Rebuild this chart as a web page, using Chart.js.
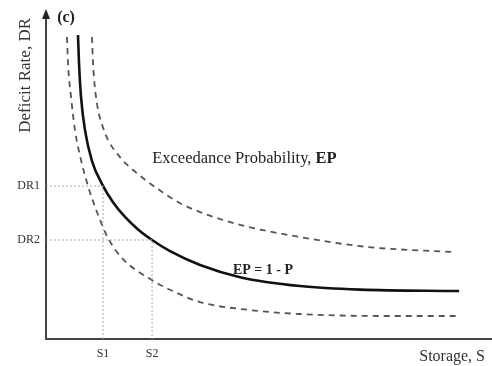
<!DOCTYPE html>
<html>
<head>
<meta charset="utf-8">
<script src="https://cdn.jsdelivr.net/npm/chart.js@4.4.0/dist/chart.umd.min.js"></script>
<style>
  html, body { margin: 0; padding: 0; background: #fff; }
  #wrap { width: 492px; height: 366px; }
</style>
</head>
<body>
<div id="wrap"><canvas id="chart"></canvas></div>
<script>
// data: storage S (x) against deficit rate DR (y), arbitrary units
const curveS  = [0.717, 0.740, 0.785, 0.874, 1.031, 1.256, 1.502, 1.771, 2.063, 2.377, 2.780, 3.453, 4.350, 5.695, 7.040, 9.260];
const curveDR = [9.24, 8.39, 7.36, 6.35, 5.41, 4.71, 4.16, 3.71, 3.33, 3.01, 2.67, 2.25, 1.88, 1.61, 1.50, 1.46];

const lowerS  = [0.471, 0.493, 0.561, 0.650, 0.785, 0.942, 1.143, 1.390, 1.726, 2.377, 2.937, 3.453, 4.574, 5.695, 7.489, 9.260];
const lowerDR = [9.18, 8.39, 7.36, 6.35, 5.44, 4.65, 3.86, 3.07, 2.43, 1.79, 1.40, 1.12, 0.88, 0.76, 0.70, 0.70];

const upperS  = [1.031, 1.054, 1.121, 1.300, 1.659, 1.951, 2.444, 3.004, 3.453, 4.350, 5.695, 7.197, 9.170];
const upperDR = [9.18, 8.39, 7.36, 6.35, 5.53, 5.14, 4.62, 4.13, 3.86, 3.47, 3.10, 2.80, 2.64];

const tickS = [1.278, 2.377];
const tickSLabels = ['S1', 'S2'];
const tickDR = [4.65, 3.01];
const tickDRLabels = ['DR1', 'DR2'];

const pts = (xs, ys) => xs.map((x, i) => ({x: x, y: ys[i]}));
const guide = (i) => [{x: 0, y: tickDR[i]}, {x: tickS[i], y: tickDR[i]}, {x: tickS[i], y: 0}];

const serif = '"Liberation Serif", "DejaVu Serif", serif';

// axis lines, arrow and the text labels
const extras = {
    id: 'extras',
    beforeDatasetsDraw(chart) {
        const ctx = chart.ctx;
        const a = chart.chartArea;
        ctx.save();
        ctx.strokeStyle = '#444';
        ctx.lineWidth = 2;
        ctx.beginPath();
        ctx.moveTo(a.left, a.bottom);
        ctx.lineTo(a.left, a.top - 3);
        ctx.moveTo(a.left - 1, a.bottom);
        ctx.lineTo(chart.width, a.bottom);
        ctx.stroke();
        ctx.fillStyle = '#222';
        ctx.beginPath();
        ctx.moveTo(a.left, a.top - 9);
        ctx.lineTo(a.left - 4, a.top + 1);
        ctx.lineTo(a.left + 4, a.top + 1);
        ctx.closePath();
        ctx.fill();
        ctx.restore();
    },
    afterDraw(chart) {
        const ctx = chart.ctx;
        const x = chart.scales.x, y = chart.scales.y;
        ctx.save();
        ctx.fillStyle = '#222';
        ctx.textBaseline = 'middle';
        ctx.textAlign = 'left';

        ctx.font = 'bold 16px ' + serif;
        ctx.fillText('(c)', x.getPixelForValue(0.25), y.getPixelForValue(9.76));

        ctx.font = '16.5px ' + serif;
        const t1 = 'Exceedance Probability, ';
        const px = x.getPixelForValue(2.38), py = y.getPixelForValue(5.47);
        ctx.fillText(t1, px, py);
        const w = ctx.measureText(t1).width;
        ctx.font = 'bold 16.5px ' + serif;
        ctx.fillText('EP', px + w, py);

        ctx.font = 'bold 14px ' + serif;
        ctx.fillText('EP = 1 - P', x.getPixelForValue(4.19), y.getPixelForValue(2.10));
        ctx.restore();
    }
};

const ctx = document.querySelector('#chart').getContext('2d');

const data = {
    datasets: [
        {
            data: guide(0),
            borderColor: '#aaa', borderWidth: 1, borderDash: [2, 2], tension: 0
        },
        {
            data: guide(1),
            borderColor: '#aaa', borderWidth: 1, borderDash: [2, 2], tension: 0
        },
        {
            data: pts(lowerS, lowerDR),
            borderColor: '#555', borderWidth: 1.8, borderDash: [6, 5],
            cubicInterpolationMode: 'monotone'
        },
        {
            data: pts(upperS, upperDR),
            borderColor: '#555', borderWidth: 1.8, borderDash: [6, 5],
            cubicInterpolationMode: 'monotone'
        },
        {
            data: pts(curveS, curveDR),
            borderColor: '#111', borderWidth: 2.6,
            cubicInterpolationMode: 'monotone'
        }
    ]
};

const config = {
    type: 'line',
    data: data,
    options: {
        responsive: true,
        maintainAspectRatio: false,
        animation: false,
        layout: { padding: { top: 18, right: 7, bottom: 0, left: 0 } },
        elements: { point: { radius: 0 } },
        plugins: {
            legend: { display: false },
            tooltip: { enabled: false }
        },
        scales: {
            x: {
                type: 'linear',
                min: 0,
                max: 9.84,
                grid: { display: false, drawTicks: false },
                border: { display: false },
                afterBuildTicks: (s) => { s.ticks = tickS.map(v => ({value: v})); },
                afterFit: (s) => { s.height = 27; },
                ticks: {
                    autoSkip: false, maxRotation: 0, padding: 8,
                    color: '#333',
                    font: { family: serif, size: 12 },
                    callback: (v, i) => tickSLabels[i]
                },
                title: {
                    display: true, text: 'Storage, S', align: 'end',
                    color: '#333', padding: { top: 0, bottom: 0 },
                    font: { family: serif, size: 16 }
                }
            },
            y: {
                type: 'linear',
                min: 0,
                max: 9.76,
                grid: { display: false, drawTicks: false },
                border: { display: false },
                afterBuildTicks: (s) => { s.ticks = tickDR.map(v => ({value: v})); },
                afterFit: (s) => { s.width = 46; },
                ticks: {
                    autoSkip: false, padding: 6,
                    color: '#333',
                    font: { family: serif, size: 12 },
                    callback: (v, i) => tickDRLabels[i]
                },
                title: {
                    display: true, text: 'Deficit Rate, DR', align: 'end',
                    color: '#333', padding: { top: 15, bottom: 0 },
                    font: { family: serif, size: 17 }
                }
            }
        }
    },
    plugins: [extras]
};

const chart = new Chart(ctx, config);
</script>
</body>
</html>
